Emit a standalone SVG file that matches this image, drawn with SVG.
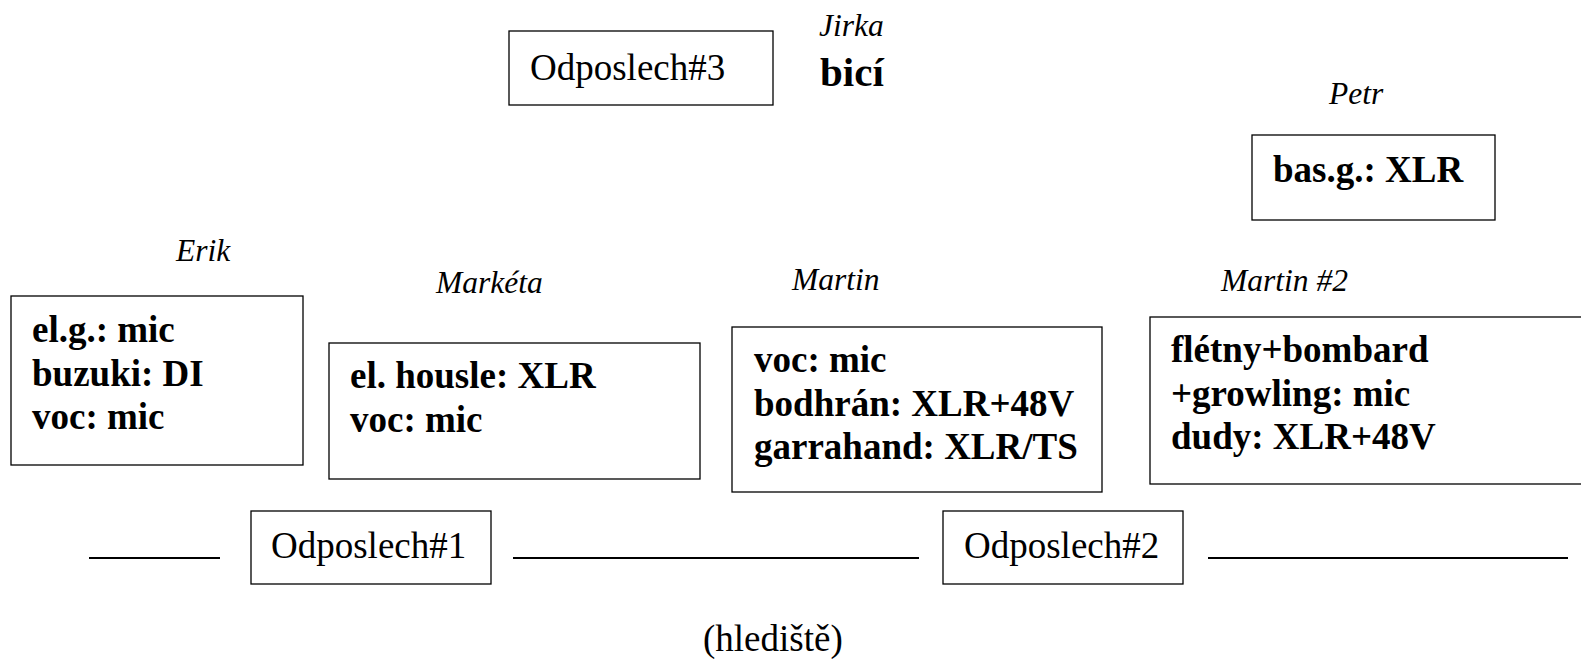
<svg xmlns="http://www.w3.org/2000/svg" width="1581" height="659" viewBox="0 0 1581 659">
<style>
rect{fill:#fff;stroke:#000;stroke-width:1.3}
text{font-family:"Liberation Serif","Times New Roman",serif;fill:#000}
.r{font-size:37px}
.b{font-size:37px;font-weight:bold}
.i{font-size:31.5px;font-style:italic}
.c line{stroke:#000;stroke-width:2.2}
</style>
<rect width="1581" height="659" style="fill:#fff;stroke:none"/>
<g class="c" id="connectors">
<line x1="89" y1="558" x2="220" y2="558"/>
<line x1="513" y1="558" x2="919" y2="558"/>
<line x1="1208" y1="558" x2="1568" y2="558"/>
</g>
<g id="odposlech3">
<rect x="509" y="31" width="264" height="74"/>
<text class="r" x="530" y="80">Odposlech#3</text>
</g>
<g id="jirka">
<text class="i" x="819" y="36">Jirka</text>
<text class="b" style="font-size:41px" x="820" y="86">bicí</text>
</g>
<g id="petr">
<text class="i" x="1329" y="104">Petr</text>
<rect x="1252" y="135" width="243" height="85"/>
<text class="b" x="1273" y="182">bas.g.: XLR</text>
</g>
<g id="erik">
<text class="i" x="176" y="261">Erik</text>
<rect x="11" y="296" width="292" height="169"/>
<text class="b"><tspan x="32" y="342">el.g.: mic</tspan><tspan x="32" y="385.5">buzuki: DI</tspan><tspan x="32" y="429">voc: mic</tspan></text>
</g>
<g id="marketa">
<text class="i" x="436" y="293">Markéta</text>
<rect x="329" y="343" width="371" height="136"/>
<text class="b"><tspan x="350" y="388">el. housle: XLR</tspan><tspan x="350" y="431.5">voc: mic</tspan></text>
</g>
<g id="martin">
<text class="i" x="792" y="290">Martin</text>
<rect x="732" y="327" width="370" height="165"/>
<text class="b"><tspan x="754" y="372">voc: mic</tspan><tspan x="754" y="415.5">bodhrán: XLR+48V</tspan><tspan x="754" y="459">garrahand: XLR/TS</tspan></text>
</g>
<g id="martin2">
<text class="i" x="1221" y="291">Martin #2</text>
<rect x="1150" y="317" width="440" height="167"/>
<text class="b"><tspan x="1171" y="362">flétny+bombard</tspan><tspan x="1171" y="405.5">+growling: mic</tspan><tspan x="1171" y="449">dudy: XLR+48V</tspan></text>
</g>
<g id="odposlech1">
<rect x="251" y="511" width="240" height="73"/>
<text class="r" x="271" y="558">Odposlech#1</text>
</g>
<g id="odposlech2">
<rect x="943" y="511" width="240" height="73"/>
<text class="r" x="964" y="558">Odposlech#2</text>
</g>
<g id="hlediste">
<text class="r" x="703" y="651">(hlediště)</text>
</g>
</svg>
